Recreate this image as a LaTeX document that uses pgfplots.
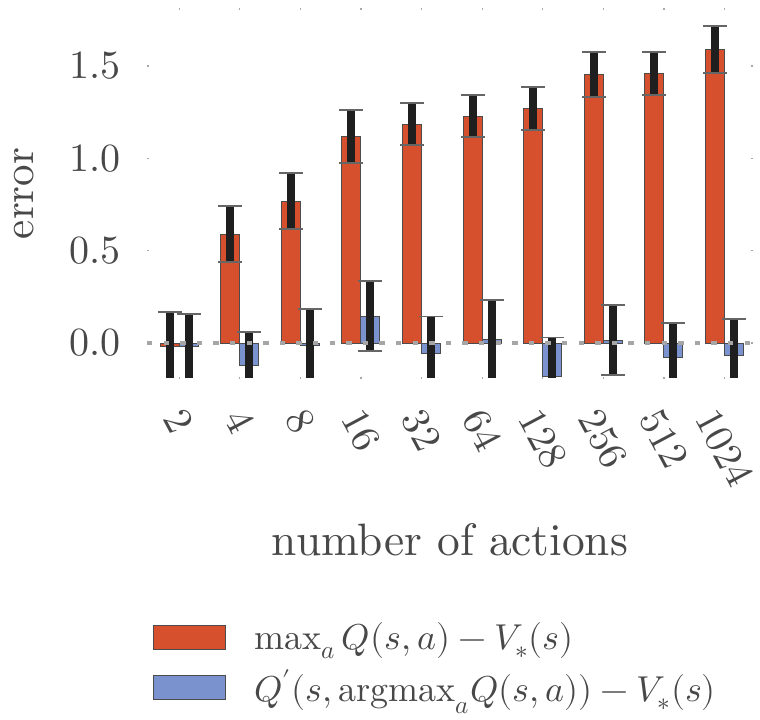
\documentclass[border=0pt]{standalone}
\usepackage{fontspec}
\usepackage{unicode-math}
\setmainfont{lmroman10-regular.otf}
\setmathfont{Latin Modern Math}
\usepackage{graphicx}
\usepackage{pgfplots}
\pgfplotsset{compat=1.18}
\definecolor{redbar}{RGB}{214,80,45}
\definecolor{bluebar}{RGB}{122,147,206}
\definecolor{txt}{RGB}{72,72,72}
\newcommand{\rl}[1]{\rotatebox{-62}{#1}}
\pgfplotstableread{
x mean err
0 -0.020 0.188
1 0.590 0.150
2 0.768 0.152
3 1.117 0.143
4 1.185 0.115
5 1.229 0.114
6 1.270 0.117
7 1.453 0.123
8 1.460 0.117
9 1.589 0.127
}\redtab
\pgfplotstableread{
x mean err
0 -0.020 0.177
1 -0.120 0.180
2 -0.016 0.200
3 0.146 0.190
4 -0.056 0.200
5 0.020 0.213
6 -0.180 0.210
7 0.015 0.190
8 -0.076 0.184
9 -0.065 0.195
}\bluetab
\begin{document}
\begin{tikzpicture}
\begin{axis}[
  scale only axis, width=303pt, height=183.5pt,
  xmin=-0.53, xmax=9.47, ymin=-0.184, ymax=1.803,
  ybar=0pt, bar width=9.5pt,
  axis line style={draw=none},
  xtick={0,...,9},
  xticklabels={\rl{2},\rl{4},\rl{8},\rl{16},\rl{32},\rl{64},\rl{128},\rl{256},\rl{512},\rl{1024}},
  ytick={0,0.5,1,1.5},
  yticklabel style={/pgf/number format/fixed, /pgf/number format/fixed zerofill, /pgf/number format/precision=1},
  tick style={draw=black!35, line width=0.6pt},
  major tick length=1pt,
  tick label style={font=\fontsize{20}{24}\selectfont, text=txt},
  xticklabel style={anchor=north, yshift=-10pt},
  yticklabel style={xshift=-9.5pt},
  xlabel={number of actions},
  xlabel style={at={(axis description cs:0.5,-0.485)}, anchor=base, font=\fontsize{22.7}{26}\selectfont, text=txt},
  ylabel={error},
  ylabel style={at={(axis description cs:-0.188,0.5)}, anchor=base, font=\fontsize{21.5}{26}\selectfont, text=txt},
  legend style={at={(axis description cs:0.0,-0.652)}, anchor=north west, draw=none, fill=none,
    font=\fontsize{18}{22}\selectfont, text=txt, row sep=6.5pt, nodes={inner sep=1pt},
    /tikz/every odd column/.append style={column sep=13pt}},
  legend cell align=left,
  legend image code/.code={\draw[#1, draw=black!70, line width=0.5pt] (0pt,-6pt) rectangle (36pt,6pt);},
  error bars/error bar style={line width=4pt, draw=black!88},
  error bars/error mark options={rotate=90, mark size=6pt, line width=0.9pt, draw=black!60},
]
\addplot[fill=redbar, draw=black!70, line width=0.5pt,
  error bars/.cd, y dir=both, y explicit]
  table[x=x, y=mean, y error=err] {\redtab};
\addlegendentry{$\max_a Q(s,a) - V_*(s)$}
\addplot[fill=bluebar, draw=black!70, line width=0.5pt,
  error bars/.cd, y dir=both, y explicit]
  table[x=x, y=mean, y error=err] {\bluetab};
\addlegendentry{$Q'(s, \mathrm{argmax}_a Q(s,a)) - V_*(s)$}
\addplot[sharp plot, draw=black!35, line width=2pt, dash pattern=on 2.7pt off 5.6pt, forget plot]
  coordinates {(-0.53,0) (9.47,0)};
\coordinate (bl) at (rel axis cs:0,0);
\coordinate (tr) at (rel axis cs:1,1);
\end{axis}
\pgfresetboundingbox
\path ([xshift=-73.5pt,yshift=-171pt]bl) rectangle ([xshift=3.5pt,yshift=5pt]tr);
\end{tikzpicture}
\end{document}
